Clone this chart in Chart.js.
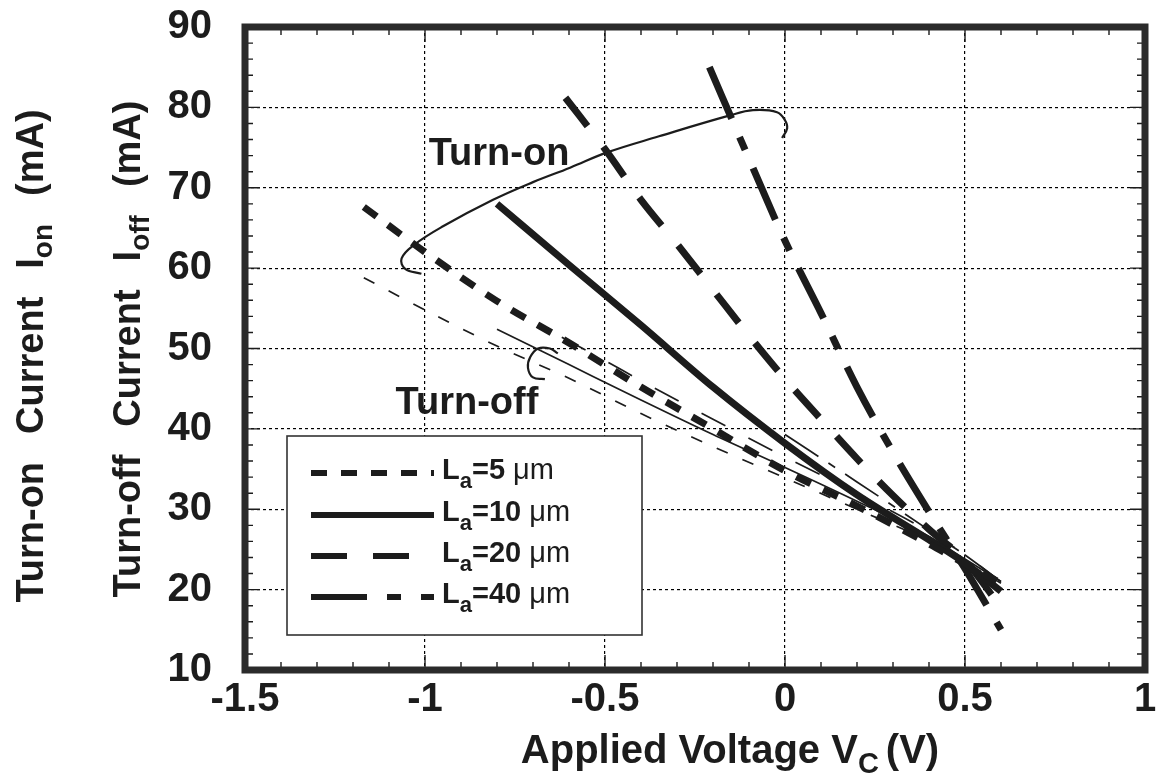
<!DOCTYPE html>
<html>
<head>
<meta charset="utf-8">
<script src="https://cdn.jsdelivr.net/npm/chart.js@4.4.1/dist/chart.umd.min.js"></script>
<style>
  html, body { margin: 0; padding: 0; background: #fff; }
  canvas { display: block; }
</style>
</head>
<body>
<canvas id="c" width="1156" height="774"></canvas>
<script>
// Turn-on (thick) and turn-off (thin) current vs applied voltage, four La values.
const FONT = '"Liberation Sans", Arial, Helvetica, sans-serif';
const INK = "#1c1c1c";

// turn-on curves (thick)
const onV5  = [-1.17, -1.0, -0.8, -0.6, -0.4, -0.2, 0, 0.2, 0.4, 0.5, 0.6];
const onI5  = [67.6, 62.0, 55.9, 50.7, 45.2, 40.0, 34.8, 30.4, 25.7, 23.2, 20.8];
const onV10 = [-0.8, -0.6, -0.4, -0.2, 0, 0.2, 0.4, 0.5, 0.6];
const onI10 = [68.0, 60.4, 52.9, 45.2, 38.2, 31.8, 26.2, 23.3, 19.8];
const onV20 = [-0.61, -0.5, -0.4, -0.3, -0.2, -0.1, 0, 0.1, 0.2, 0.3, 0.4, 0.5, 0.6];
const onI20 = [81.2, 74.8, 68.5, 63.0, 57.3, 51.6, 46.2, 41.2, 36.3, 31.7, 27.5, 23.6, 17.8];
const onV40 = [-0.21, -0.1, 0, 0.1, 0.2, 0.3, 0.4, 0.5, 0.6];
const onI40 = [85.0, 73.6, 63.4, 54.4, 45.2, 37.1, 29.7, 22.6, 15.0];

// turn-off curves (thin)
const offV5  = [-1.17, -1.0, -0.8, -0.6, -0.4, -0.2, 0, 0.2, 0.4, 0.5, 0.6];
const offI5  = [58.8, 54.8, 50.3, 46.3, 41.9, 37.8, 33.9, 30.0, 26.0, 23.4, 20.8];
const offV10 = [-0.8, -0.6, -0.4, -0.2, 0, 0.2, 0.4, 0.5, 0.6];
const offI10 = [52.4, 48.0, 43.6, 39.3, 35.2, 31.0, 26.6, 23.8, 21.0];
const offV20 = [-0.62, -0.5, -0.4, -0.2, 0, 0.2, 0.4, 0.5, 0.6];
const offI20 = [51.4, 48.5, 46.0, 41.2, 36.5, 32.0, 27.2, 24.3, 21.0];
const offV40 = [0.0, 0.2, 0.4, 0.5, 0.6];
const offI40 = [39.3, 33.4, 27.4, 24.3, 21.0];

// annotation outlines (data units)
const loopOnV = [-0.008, 0.006, 0.0, -0.022, -0.089, -0.153, -0.35, -0.494, -0.597, -0.7, -0.811, -0.95, -1.03, -1.065, -1.055, -1.01];
const loopOnI = [76.2, 77.4, 78.4, 79.4, 79.65, 79.0, 76.4, 74.4, 72.5, 70.7, 68.5, 65.2, 62.9, 61.2, 59.9, 59.3];
const hookOffV = [-0.631, -0.653, -0.686, -0.708, -0.714, -0.700, -0.667];
const hookOffI = [49.4, 50.0, 50.0, 48.9, 47.6, 46.4, 46.2];

const xTicks = [-1.5, -1, -0.5, 0, 0.5, 1];
const yTicks = [10, 20, 30, 40, 50, 60, 70, 80, 90];

const legendLabels = ["5", "10", "20", "40"];
const dashes = [[16, 14], [], [36, 26], [56, 20, 14, 20]];
const thinDashes = [[12, 16], [], [27, 26], [40, 12, 8, 12]];

const pts = (xs, ys) => xs.map((x, i) => ({ x, y: ys[i] }));

function curve(xs, ys, dash, width) {
  return {
    data: pts(xs, ys),
    showLine: true,
    borderColor: INK,
    borderWidth: width,
    borderDash: dash,
    borderCapStyle: "butt",
    pointRadius: 0,
    cubicInterpolationMode: "monotone",
  };
}

function outline(xs, ys) {
  return {
    data: pts(xs, ys),
    showLine: true,
    borderColor: INK,
    borderWidth: 2.2,
    pointRadius: 0,
    tension: 0.4,
  };
}

const datasets = [
  curve(onV5, onI5, dashes[0], 7),
  curve(onV10, onI10, dashes[1], 7),
  curve(onV20, onI20, dashes[2], 7),
  curve(onV40, onI40, dashes[3], 7),
  curve(offV5, offI5, thinDashes[0], 1.7),
  curve(offV10, offI10, thinDashes[1], 1.7),
  curve(offV20, offI20, thinDashes[2], 1.7),
  curve(offV40, offI40, thinDashes[3], 1.7),
  outline(loopOnV, loopOnI),
  outline(hookOffV, hookOffI),
];

// draws a run of text pieces; each piece {t, size, weight, dy, gap}
function rich(ctx, parts, x, y, align) {
  let total = 0;
  parts.forEach(p => {
    ctx.font = `${p.weight || "bold"} ${p.size}px ${FONT}`;
    p.w = ctx.measureText(p.t).width + (p.gap || 0);
    total += p.w;
  });
  let cx = align === "center" ? x - total / 2 : x;
  ctx.textAlign = "left";
  ctx.textBaseline = "alphabetic";
  parts.forEach(p => {
    ctx.font = `${p.weight || "bold"} ${p.size}px ${FONT}`;
    ctx.fillText(p.t, cx, y + (p.dy || 0));
    cx += p.w;
  });
}

const decor = {
  id: "decor",
  afterDatasetsDraw(chart) {
    const { ctx, chartArea: a, scales: { x, y } } = chart;
    ctx.save();
    ctx.fillStyle = INK;
    ctx.strokeStyle = INK;

    // inner ticks on all four sides
    ctx.lineWidth = 1.4;
    ctx.beginPath();
    for (let i = -15; i <= 10; i++) {
      const px = x.getPixelForValue(i / 10);
      const len = i % 5 === 0 ? 15 : 8;
      ctx.moveTo(px, a.bottom); ctx.lineTo(px, a.bottom - len);
      ctx.moveTo(px, a.top); ctx.lineTo(px, a.top + len);
    }
    for (let v = 10; v <= 90; v += 2) {
      const py = y.getPixelForValue(v);
      const len = v % 10 === 0 ? 15 : 8;
      ctx.moveTo(a.left, py); ctx.lineTo(a.left + len, py);
      ctx.moveTo(a.right, py); ctx.lineTo(a.right - len, py);
    }
    ctx.stroke();

    // frame
    ctx.lineWidth = 7;
    ctx.strokeStyle = "#2b2b2b";
    ctx.strokeRect(a.left, a.top, a.right - a.left, a.bottom - a.top);

    // legend box
    const lx = 287, ly = 436, lw = 355, lh = 199;
    ctx.fillStyle = "#fff";
    ctx.fillRect(lx, ly, lw, lh);
    ctx.lineWidth = 1.6;
    ctx.strokeStyle = "#333";
    ctx.strokeRect(lx, ly, lw, lh);
    const rows = [473, 515, 556, 597];
    ctx.fillStyle = INK;
    legendLabels.forEach((lab, i) => {
      ctx.strokeStyle = INK;
      ctx.lineWidth = 6;
      ctx.setLineDash(dashes[i]);
      ctx.beginPath();
      ctx.moveTo(311, rows[i]);
      ctx.lineTo(434, rows[i]);
      ctx.stroke();
      ctx.setLineDash([]);
      rich(ctx, [
        { t: "L", size: 29 },
        { t: "a", size: 22, dy: 9 },
        { t: "=" + lab, size: 29 },
        { t: " \u03bcm", size: 29, weight: "normal" },
      ], 442, rows[i] + 6, "left");
    });

    // annotations
    rich(ctx, [{ t: "Turn-on", size: 38 }], 499, 165, "center");
    rich(ctx, [{ t: "Turn-off", size: 38 }], 467, 414, "center");

    // axis titles
    rich(ctx, [
      { t: "Applied Voltage V", size: 40 },
      { t: "C", size: 29, dy: 10, gap: 7 },
      { t: "(V)", size: 40 },
    ], 730, 763, "center");

    ctx.save();
    ctx.translate(43, 356);
    ctx.rotate(-Math.PI / 2);
    rich(ctx, [
      { t: "Turn-on", size: 38, gap: 28 },
      { t: "Current", size: 38, gap: 28 },
      { t: "I", size: 38 },
      { t: "on", size: 28, dy: 9, gap: 28 },
      { t: "(mA)", size: 38 },
    ], 0, 0, "center");
    ctx.restore();

    ctx.save();
    ctx.translate(140, 349);
    ctx.rotate(-Math.PI / 2);
    rich(ctx, [
      { t: "Turn-off", size: 38, gap: 28 },
      { t: "Current", size: 38, gap: 28 },
      { t: "I", size: 38 },
      { t: "off", size: 28, dy: 9, gap: 28 },
      { t: "(mA)", size: 38 },
    ], 0, 0, "center");
    ctx.restore();

    ctx.restore();
  },
};

const tickFont = { family: FONT, size: 40, weight: "bold" };

new Chart(document.getElementById("c"), {
  type: "scatter",
  data: { datasets },
  options: {
    responsive: false,
    animation: false,
    devicePixelRatio: 1,
    layout: { padding: { left: 0, right: 11, top: 27, bottom: 0 } },
    plugins: { legend: { display: false }, tooltip: { enabled: false } },
    scales: {
      x: {
        type: "linear",
        min: -1.5, max: 1,
        afterBuildTicks: s => { s.ticks = xTicks.map(v => ({ value: v })); },
        afterFit: s => { s.height = 104; s.paddingLeft = 0; s.paddingRight = 0; },
        ticks: { font: tickFont, color: INK, padding: 6, maxRotation: 0, callback: v => String(v) },
        grid: { color: "#000", lineWidth: 1.2, drawTicks: false },
        border: { display: false, dash: [3, 3] },
      },
      y: {
        type: "linear",
        min: 10, max: 90,
        afterBuildTicks: s => { s.ticks = yTicks.map(v => ({ value: v })); },
        afterFit: s => { s.width = 245; s.paddingTop = 0; s.paddingBottom = 0; },
        ticks: { font: tickFont, color: INK, padding: 33, callback: v => String(v) },
        grid: { color: "#000", lineWidth: 1.2, drawTicks: false },
        border: { display: false, dash: [3, 3] },
      },
    },
  },
  plugins: [decor],
});
</script>
</body>
</html>
